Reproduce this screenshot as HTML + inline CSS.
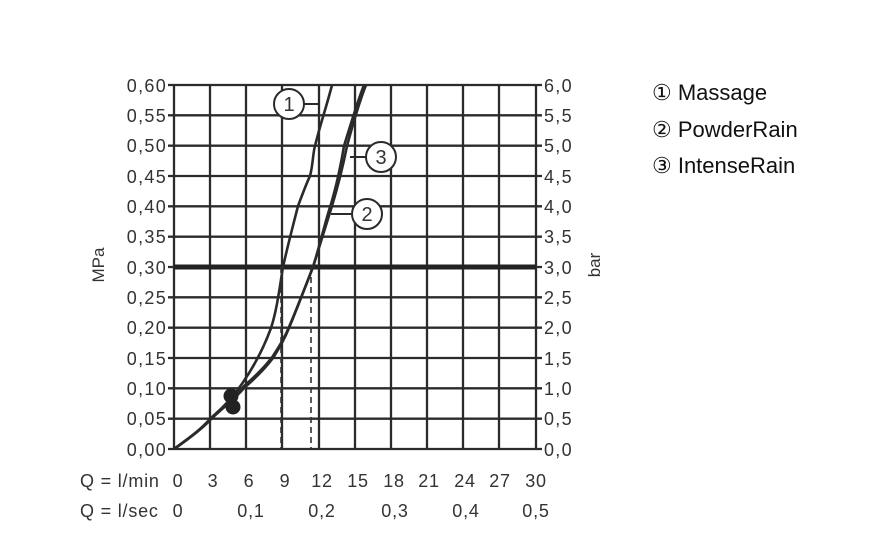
<!DOCTYPE html>
<html><head><meta charset="utf-8"><style>
body{margin:0;background:#fff;}
svg{display:block;}
text{font-family:"Liberation Sans",sans-serif;fill:#333;}
</style></head><body>
<svg width="891" height="540" viewBox="0 0 891 540">
<g stroke="#2b2b2b" stroke-width="2.3" fill="none">
<path d="M174,85V449M210,85V449M246,85V449M282,85V449M319,85V449M355,85V449M391,85V449M427,85V449M463,85V449M499,85V449M536,85V449"/>
<path d="M174,85H536M174,115.3H536M174,145.7H536M174,176H536M174,206.3H536M174,236.7H536M174,297.3H536M174,327.7H536M174,358H536M174,388.3H536M174,418.7H536M174,449H536"/>
<path d="M168,85h6M168,115.3h6M168,145.7h6M168,176h6M168,206.3h6M168,236.7h6M168,267h6M168,297.3h6M168,327.7h6M168,358h6M168,388.3h6M168,418.7h6M168,449h6"/>
<path d="M536,85h6M536,115.3h6M536,145.7h6M536,176h6M536,206.3h6M536,236.7h6M536,267h6M536,297.3h6M536,327.7h6M536,358h6M536,388.3h6M536,418.7h6M536,449h6"/>
</g>
<path d="M174,267H536" stroke="#222" stroke-width="5"/>
<path d="M281,267V449M311,267V449" stroke="#333" stroke-width="1.6" stroke-dasharray="6,4"/>
<g stroke="#2a2a2a" stroke-width="2.6" fill="none" stroke-linejoin="round">
<path d="M174,449 C190,437 203,428 211,419 C222,408 232,398 239,388 C252,370 263,350 271,328 C277,310 280,285 283,267 C289,240 294,222 298,206 C304,190 308,180 310,176 C313,165 313,152 315,146 C320,125 327,105 332,85"/>
<path d="M174,449 C190,438 203,428 211,419 C225,406 236,398 244,388 C258,376 267,366 273,358 C280,347 285,338 289,328 C298,306 306,285 313,267 C320,245 326,225 332,206 C338,186 343,166 347,146 C354,120 360,100 366,85"/>
<path d="M174,449 C190,438 203,427 211,418 C225,405 236,396 244,386 C258,374 267,364 273,356 C280,345 285,337 289,327 C298,306 306,285 313,267 C320,245 325,222 331,204 C337,184 341,164 344,146 C352,120 358,100 364,85"/>
</g>
<circle cx="231" cy="396" r="7.5" fill="#222"/>
<circle cx="233" cy="407" r="7.5" fill="#222"/>
<g stroke="#2a2a2a" stroke-width="2" fill="#fff">
<path d="M304,104H320M366,157H350M352,214H331"/>
<circle cx="289" cy="104" r="15"/>
<circle cx="381" cy="157" r="15"/>
<circle cx="367" cy="214" r="15"/>
</g>
<g font-size="20" text-anchor="middle">
<text x="289" y="111">1</text><text x="381" y="164">3</text><text x="367" y="221">2</text>
</g>
<g font-size="18" text-anchor="end" letter-spacing="1.3">
<text x="167" y="92">0,60</text><text x="167" y="122">0,55</text><text x="167" y="152">0,50</text><text x="167" y="183">0,45</text><text x="167" y="213">0,40</text><text x="167" y="243">0,35</text><text x="167" y="274">0,30</text><text x="167" y="304">0,25</text><text x="167" y="334">0,20</text><text x="167" y="365">0,15</text><text x="167" y="395">0,10</text><text x="167" y="425">0,05</text><text x="167" y="456">0,00</text>
</g>
<g font-size="18" letter-spacing="1.3">
<text x="544" y="92">6,0</text><text x="544" y="122">5,5</text><text x="544" y="152">5,0</text><text x="544" y="183">4,5</text><text x="544" y="213">4,0</text><text x="544" y="243">3,5</text><text x="544" y="274">3,0</text><text x="544" y="304">2,5</text><text x="544" y="334">2,0</text><text x="544" y="365">1,5</text><text x="544" y="395">1,0</text><text x="544" y="425">0,5</text><text x="544" y="456">0,0</text>
</g>
<text font-size="17" transform="translate(104,265) rotate(-90)" text-anchor="middle">MPa</text>
<text font-size="17" transform="translate(600,265) rotate(-90)" text-anchor="middle">bar</text>
<g font-size="18" letter-spacing="0.8">
<text x="80" y="487">Q = l/min</text>
<text x="80" y="517">Q = l/sec</text>
</g>
<g font-size="18" text-anchor="middle" letter-spacing="0.8">
<text x="178" y="487">0</text><text x="213" y="487">3</text><text x="249" y="487">6</text><text x="285" y="487">9</text><text x="322" y="487">12</text><text x="358" y="487">15</text><text x="394" y="487">18</text><text x="429" y="487">21</text><text x="465" y="487">24</text><text x="500" y="487">27</text><text x="536" y="487">30</text>
<text x="178" y="517">0</text><text x="251" y="517">0,1</text><text x="322" y="517">0,2</text><text x="395" y="517">0,3</text><text x="466" y="517">0,4</text><text x="536" y="517">0,5</text>
</g>
<g font-size="22">
<text x="652" y="100" style="fill:#111">① Massage</text>
<text x="652" y="137" style="fill:#111">② PowderRain</text>
<text x="652" y="173" style="fill:#111">③ IntenseRain</text>
</g>
</svg>
</body></html>
